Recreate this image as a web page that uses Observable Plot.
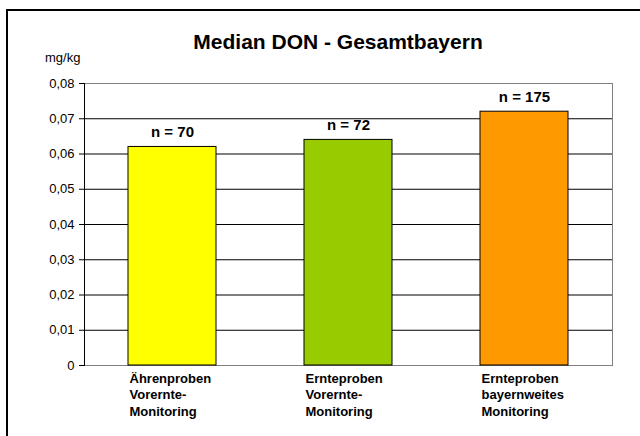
<!DOCTYPE html>
<html>
<head>
<meta charset="utf-8">
<script src="https://cdn.jsdelivr.net/npm/d3@7"></script>
<script src="https://cdn.jsdelivr.net/npm/@observablehq/plot@0.6"></script>
<style>
  html, body { margin: 0; padding: 0; background: #fff; overflow: hidden; }
  #wrap { position: relative; width: 640px; height: 436px; font-family: "Liberation Sans", Arial, sans-serif; }
  #border { position: absolute; left: 6px; top: 9px; width: 660px; height: 460px; border: 2px solid #000; box-sizing: border-box; }
  #title { position: absolute; left: 0; width: 676px; top: 31px; text-align: center; font-size: 21px; font-weight: bold; line-height: 21px; color: #000; }
  #unit { position: absolute; left: 45px; top: 51px; font-size: 13px; line-height: 13px; color: #000; }
  #chart { position: absolute; left: 0; top: 0; }
</style>
</head>
<body>
<div id="wrap">
  <div id="border"></div>
  <div id="chart"></div>
  <div id="title">Median DON - Gesamtbayern</div>
  <div id="unit">mg/kg</div>
</div>
<script>
const categories = [
  "Ährenproben\nVorernte-\nMonitoring",
  "Ernteproben\nVorernte-\nMonitoring",
  "Ernteproben\nbayernweites\nMonitoring"
];
const medians = [0.062, 0.064, 0.072];
const sampleCounts = [70, 72, 175];
const barColors = ["#FFFF00", "#99CC00", "#FF9900"];
const yTicks = [0, 0.01, 0.02, 0.03, 0.04, 0.05, 0.06, 0.07, 0.08];

const data = categories.map((c, i) => ({cat: c, value: medians[i], n: sampleCounts[i], color: barColors[i]}));

const chart = Plot.plot({
  width: 640,
  height: 436,
  marginLeft: 84,
  marginRight: 28,
  marginTop: 83,
  marginBottom: 71,
  style: {fontFamily: "'Liberation Sans', Arial, sans-serif", fontSize: "13px", background: "transparent", color: "#000"},
  x: {domain: categories, paddingInner: 0.5, paddingOuter: 0.25, label: null},
  y: {domain: [0, 0.08], label: null},
  color: {type: "identity"},
  marks: [
    Plot.ruleY(yTicks.slice(1, -1), {stroke: "#000", strokeWidth: 1}),
    Plot.frame({stroke: "#808080"}),
    Plot.frame({anchor: "left", stroke: "#000"}),
    Plot.barY(data, {x: "cat", y: "value", fill: "color", stroke: "#000", strokeWidth: 1}),
    Plot.text(data, {x: "cat", y: "value", text: d => `n = ${d.n}`, dy: -15, fontWeight: "bold", fontSize: 15, fill: "#000"}),
    Plot.axisY({ticks: yTicks, tickFormat: d => d === 0 ? "0" : d.toFixed(2).replace(".", ","), tickSize: 5, tickPadding: 5, fontSize: 13, label: null, stroke: "#000"}),
    Plot.axisX({tickSize: 0, tickPadding: 6, textAnchor: "start", dx: -43, fontWeight: "bold", fontSize: 13, lineHeight: 1.25, label: null})
  ]
});
document.getElementById("chart").appendChild(chart);
</script>
</body>
</html>
